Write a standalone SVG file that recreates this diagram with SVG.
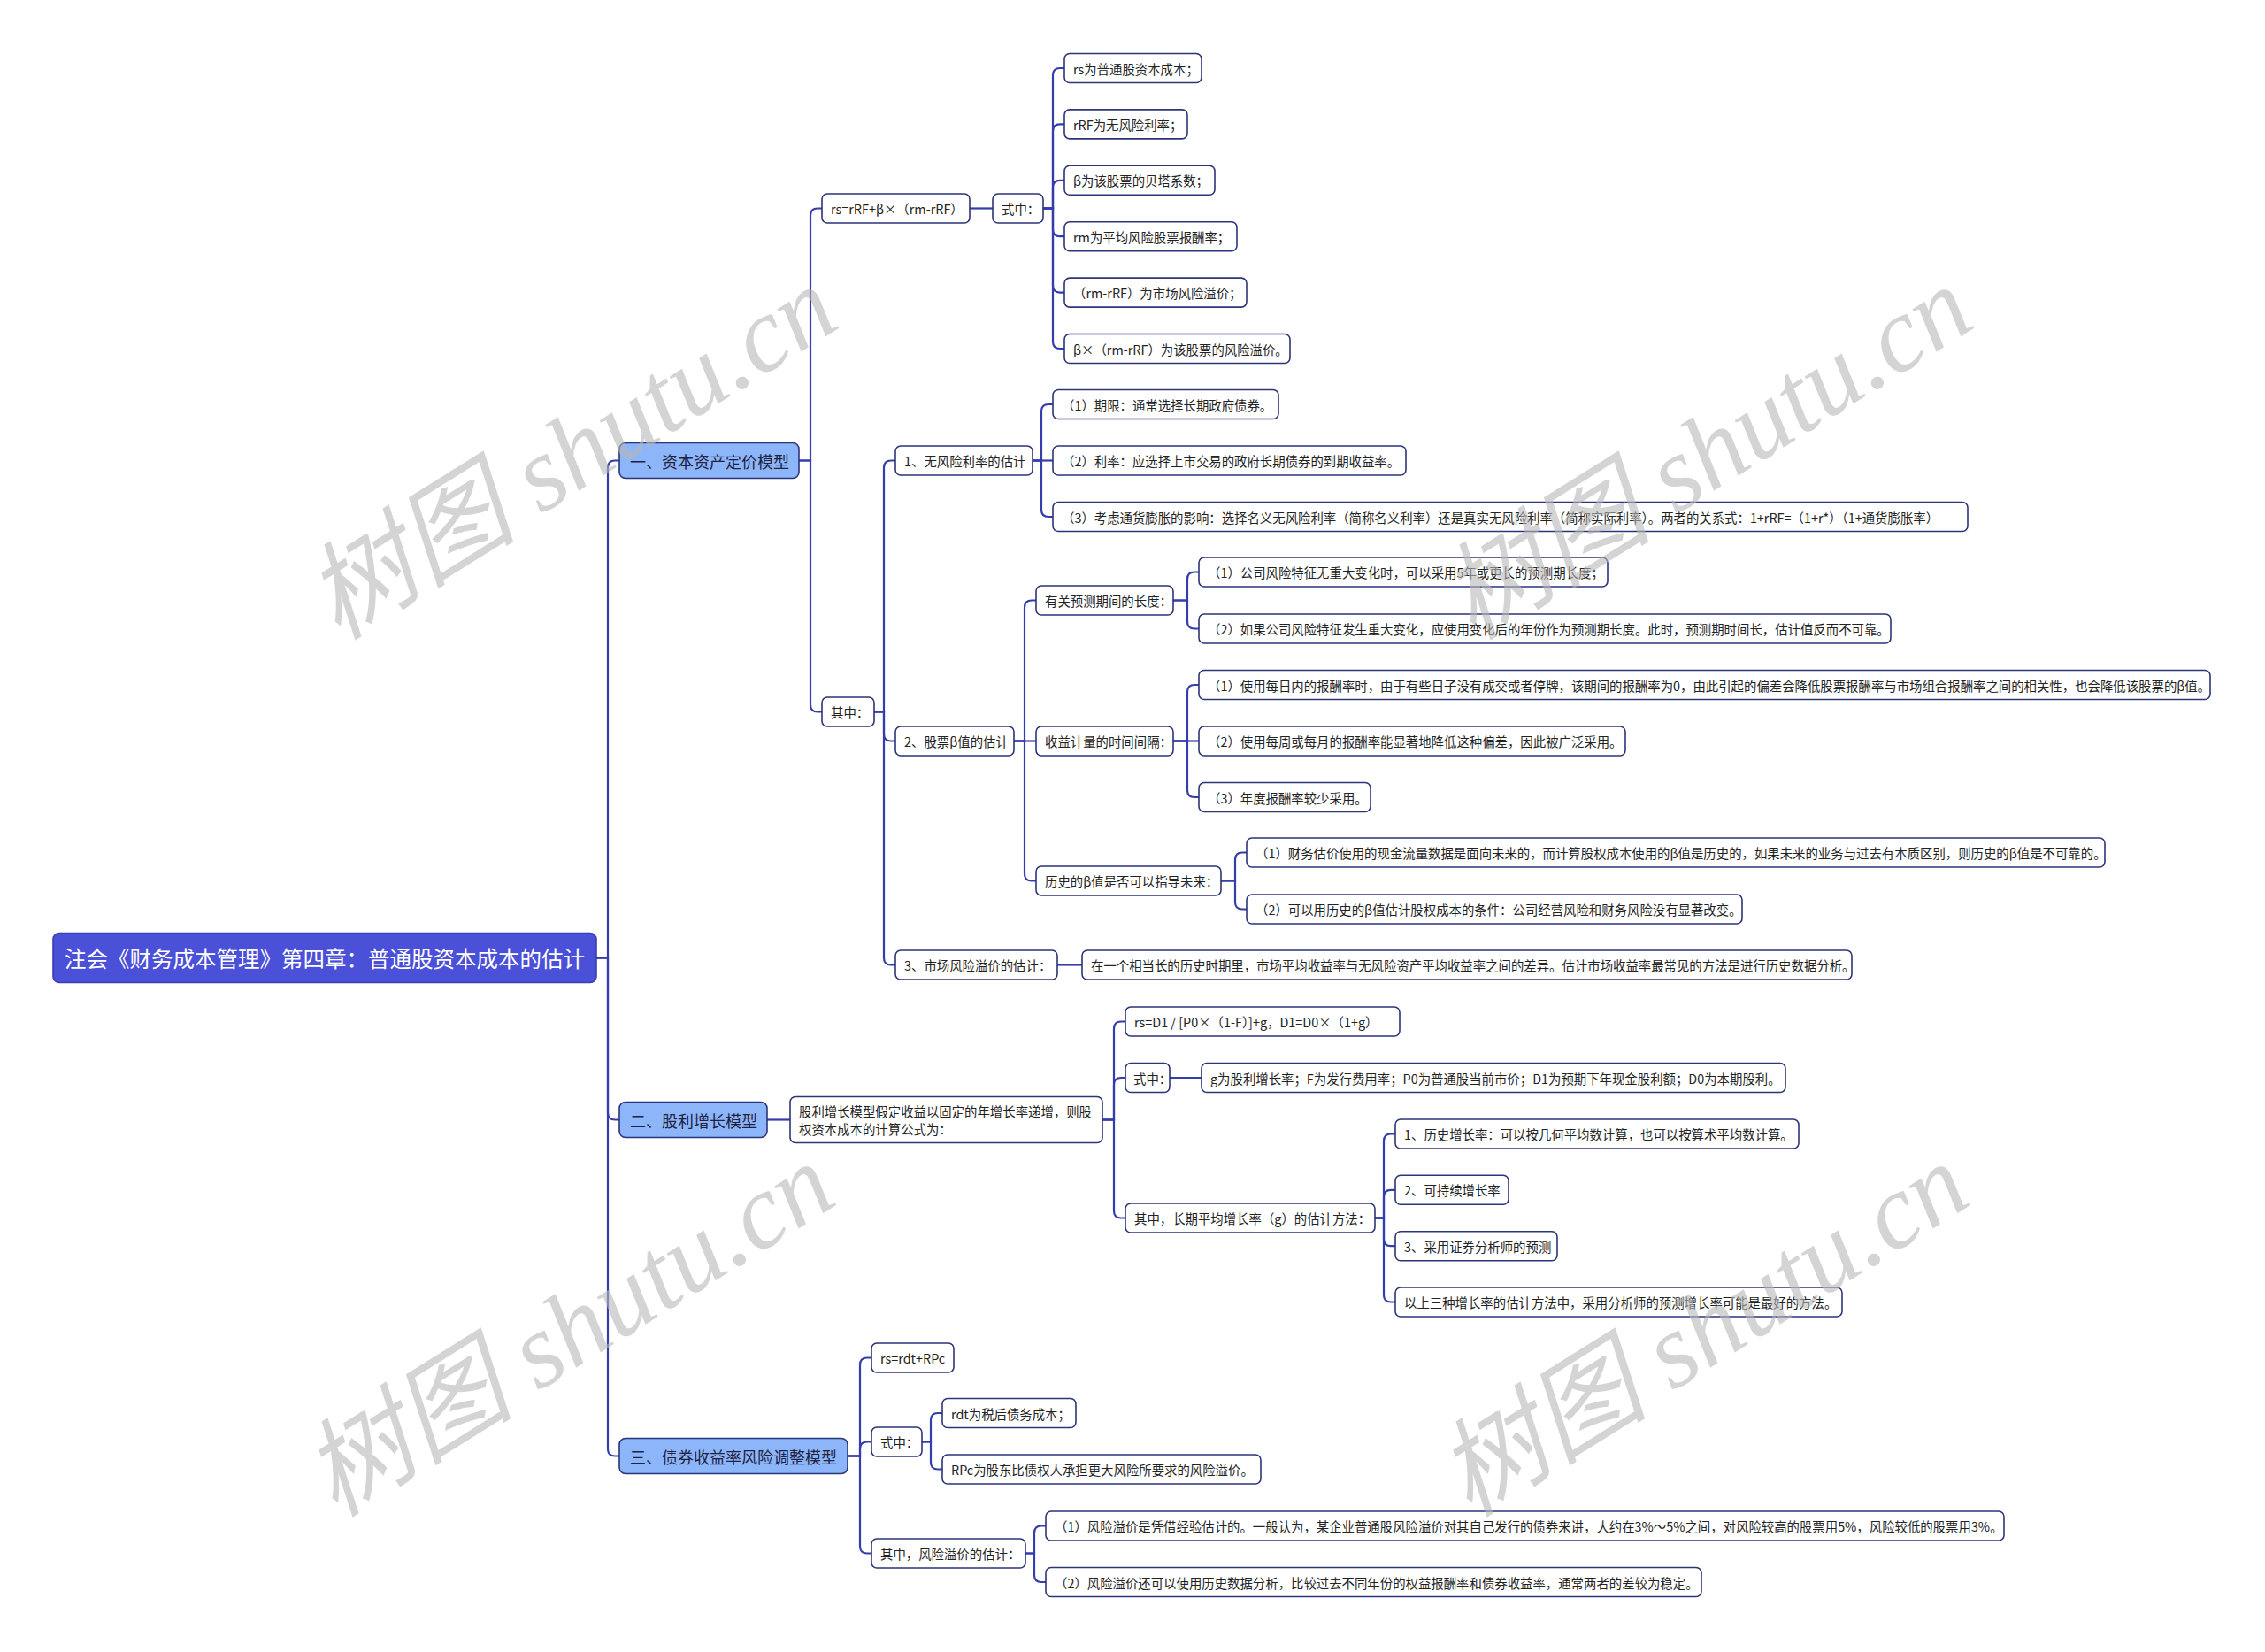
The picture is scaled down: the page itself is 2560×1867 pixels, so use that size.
<svg xmlns="http://www.w3.org/2000/svg" width="2560" height="1867" viewBox="0 0 2560 1867">
<style>
text{font-family:"Noto Sans CJK SC","Microsoft YaHei","Noto Sans",sans-serif;dominant-baseline:central}
.n rect{fill:#ffffff;stroke:#2c3578;stroke-width:1.6}
.n text{font-size:14.4px;fill:#222222}
.l1 rect{fill:#8db5fa;stroke:#2c3578;stroke-width:1.6}
.l1 text{font-size:18px;fill:#1e2240}
.root rect{fill:#4a50d8;stroke:#3a3fb5;stroke-width:1.6}
.root text{font-size:24.5px;fill:#ffffff}
#connectors path{fill:none;stroke:#353cab;stroke-width:2.2}
.wm{font-family:"Liberation Serif","Noto Sans CJK SC",serif;font-style:italic;font-size:120px;fill:#b8b8b8;opacity:0.6;dominant-baseline:central}
</style>
<rect width="2560" height="1867" fill="#ffffff"/>
<g transform="translate(0,-1.5)">
<g id="connectors">
<path d="M674 1084 H687 V530 Q687 522 695 522 H700"/>
<path d="M674 1084 H687 V1259 Q687 1267 695 1267 H700"/>
<path d="M674 1084 H687 V1639 Q687 1647 695 1647 H700"/>
<path d="M903 522 H916 V245 Q916 237 924 237 H929"/>
<path d="M903 522 H916 V798 Q916 806 924 806 H929"/>
<path d="M1096 237 H1122"/>
<path d="M1179 237 H1190 V86.5 Q1190 78.5 1198 78.5 H1203"/>
<path d="M1179 237 H1190 V149.9 Q1190 141.9 1198 141.9 H1203"/>
<path d="M1179 237 H1190 V213.3 Q1190 205.3 1198 205.3 H1203"/>
<path d="M1179 237 H1190 V260.7 Q1190 268.7 1198 268.7 H1203"/>
<path d="M1179 237 H1190 V324.1 Q1190 332.1 1198 332.1 H1203"/>
<path d="M1179 237 H1190 V387.5 Q1190 395.5 1198 395.5 H1203"/>
<path d="M988 806 H999 V530 Q999 522 1007 522 H1012"/>
<path d="M988 806 H999 V831 Q999 839 1007 839 H1012"/>
<path d="M988 806 H999 V1084 Q999 1092 1007 1092 H1012"/>
<path d="M1167 522 H1177 V466.5 Q1177 458.5 1185 458.5 H1190"/>
<path d="M1167 522 H1190"/>
<path d="M1167 522 H1177 V577.5 Q1177 585.5 1185 585.5 H1190"/>
<path d="M1146 839 H1158 V688 Q1158 680 1166 680 H1171"/>
<path d="M1146 839 H1171"/>
<path d="M1146 839 H1158 V989 Q1158 997 1166 997 H1171"/>
<path d="M1326 680 H1342 V656 Q1342 648 1350 648 H1355"/>
<path d="M1326 680 H1342 V704 Q1342 712 1350 712 H1355"/>
<path d="M1326 839 H1342 V783.5 Q1342 775.5 1350 775.5 H1355"/>
<path d="M1326 839 H1355"/>
<path d="M1326 839 H1342 V894.5 Q1342 902.5 1350 902.5 H1355"/>
<path d="M1380 997 H1396 V973 Q1396 965 1404 965 H1409"/>
<path d="M1380 997 H1396 V1021 Q1396 1029 1404 1029 H1409"/>
<path d="M1195 1092 H1223"/>
<path d="M867 1267 H893"/>
<path d="M1246 1267 H1259 V1164 Q1259 1156 1267 1156 H1272"/>
<path d="M1246 1267 H1259 V1227.5 Q1259 1219.5 1267 1219.5 H1272"/>
<path d="M1246 1267 H1259 V1370 Q1259 1378 1267 1378 H1272"/>
<path d="M1322 1219.5 H1358"/>
<path d="M1554 1378 H1564 V1291 Q1564 1283 1572 1283 H1577"/>
<path d="M1554 1378 H1564 V1354.3 Q1564 1346.3 1572 1346.3 H1577"/>
<path d="M1554 1378 H1564 V1401.7 Q1564 1409.7 1572 1409.7 H1577"/>
<path d="M1554 1378 H1564 V1465 Q1564 1473 1572 1473 H1577"/>
<path d="M958 1647 H972 V1544 Q972 1536 980 1536 H985"/>
<path d="M958 1647 H972 V1639 Q972 1631 980 1631 H985"/>
<path d="M958 1647 H972 V1749 Q972 1757 980 1757 H985"/>
<path d="M1042 1631 H1052 V1606.5 Q1052 1598.5 1060 1598.5 H1065"/>
<path d="M1042 1631 H1052 V1654 Q1052 1662 1060 1662 H1065"/>
<path d="M1159 1757 H1169 V1734 Q1169 1726 1177 1726 H1182"/>
<path d="M1159 1757 H1169 V1781.5 Q1169 1789.5 1177 1789.5 H1182"/>
</g>

<g id="root" class="root"><rect x="60" y="1056" width="614" height="56" rx="7"/><text x="73" y="1084">注会《财务成本管理》第四章：普通股资本成本的估计</text></g>

<g id="n1" class="l1"><rect x="700" y="502" width="203" height="40" rx="7"/><text x="712" y="522">一、资本资产定价模型</text></g>
<g id="n2" class="l1"><rect x="700" y="1247" width="167" height="40" rx="7"/><text x="712" y="1267">二、股利增长模型</text></g>
<g id="n3" class="l1"><rect x="700" y="1627" width="258" height="40" rx="7"/><text x="712" y="1647">三、债券收益率风险调整模型</text></g>

<g id="n1-1" class="n"><rect x="929" y="220.5" width="167" height="33" rx="6"/><text x="939" y="237">rs=rRF+β×（rm-rRF）</text></g>
<g id="n1-1-1" class="n"><rect x="1122" y="220.5" width="57" height="33" rx="6"/><text x="1132" y="237">式中：</text></g>
<g id="n1-1-1-1" class="n"><rect x="1203" y="62" width="155" height="33" rx="6"/><text x="1213" y="78.5">rs为普通股资本成本；</text></g>
<g id="n1-1-1-2" class="n"><rect x="1203" y="125.4" width="139" height="33" rx="6"/><text x="1213" y="141.9">rRF为无风险利率；</text></g>
<g id="n1-1-1-3" class="n"><rect x="1203" y="188.8" width="170" height="33" rx="6"/><text x="1213" y="205.3">β为该股票的贝塔系数；</text></g>
<g id="n1-1-1-4" class="n"><rect x="1203" y="252.2" width="195" height="33" rx="6"/><text x="1213" y="268.7">rm为平均风险股票报酬率；</text></g>
<g id="n1-1-1-5" class="n"><rect x="1203" y="315.6" width="206" height="33" rx="6"/><text x="1213" y="332.1">（rm-rRF）为市场风险溢价；</text></g>
<g id="n1-1-1-6" class="n"><rect x="1203" y="379" width="255" height="33" rx="6"/><text x="1213" y="395.5">β×（rm-rRF）为该股票的风险溢价。</text></g>

<g id="n1-2" class="n"><rect x="929" y="789.5" width="59" height="33" rx="6"/><text x="939" y="806">其中：</text></g>
<g id="n1-2-1" class="n"><rect x="1012" y="505.5" width="155" height="33" rx="6"/><text x="1022" y="522">1、无风险利率的估计</text></g>
<g id="n1-2-1-1" class="n"><rect x="1190" y="442" width="255" height="33" rx="6"/><text x="1200" y="458.5">（1）期限：通常选择长期政府债券。</text></g>
<g id="n1-2-1-2" class="n"><rect x="1190" y="505.5" width="399" height="33" rx="6"/><text x="1200" y="522">（2）利率：应选择上市交易的政府长期债券的到期收益率。</text></g>
<g id="n1-2-1-3" class="n"><rect x="1190" y="569" width="1034" height="33" rx="6"/><text x="1200" y="585.5">（3）考虑通货膨胀的影响：选择名义无风险利率（简称名义利率）还是真实无风险利率（简称实际利率）。两者的关系式：1+rRF=（1+r*）（1+通货膨胀率）</text></g>

<g id="n1-2-2" class="n"><rect x="1012" y="822.5" width="134" height="33" rx="6"/><text x="1022" y="839">2、股票β值的估计</text></g>
<g id="n1-2-2-1" class="n"><rect x="1171" y="663.5" width="155" height="33" rx="6"/><text x="1181" y="680">有关预测期间的长度：</text></g>
<g id="n1-2-2-1-1" class="n"><rect x="1355" y="631.5" width="462" height="33" rx="6"/><text x="1365" y="648">（1）公司风险特征无重大变化时，可以采用5年或更长的预测期长度；</text></g>
<g id="n1-2-2-1-2" class="n"><rect x="1355" y="695.5" width="782" height="33" rx="6"/><text x="1365" y="712">（2）如果公司风险特征发生重大变化，应使用变化后的年份作为预测期长度。此时，预测期时间长，估计值反而不可靠。</text></g>
<g id="n1-2-2-2" class="n"><rect x="1171" y="822.5" width="155" height="33" rx="6"/><text x="1181" y="839">收益计量的时间间隔：</text></g>
<g id="n1-2-2-2-1" class="n"><rect x="1355" y="759" width="1143" height="33" rx="6"/><text x="1365" y="775.5">（1）使用每日内的报酬率时，由于有些日子没有成交或者停牌，该期间的报酬率为0，由此引起的偏差会降低股票报酬率与市场组合报酬率之间的相关性，也会降低该股票的β值。</text></g>
<g id="n1-2-2-2-2" class="n"><rect x="1355" y="822.5" width="482" height="33" rx="6"/><text x="1365" y="839">（2）使用每周或每月的报酬率能显著地降低这种偏差，因此被广泛采用。</text></g>
<g id="n1-2-2-2-3" class="n"><rect x="1355" y="886" width="194" height="33" rx="6"/><text x="1365" y="902.5">（3）年度报酬率较少采用。</text></g>
<g id="n1-2-2-3" class="n"><rect x="1171" y="980.5" width="209" height="33" rx="6"/><text x="1181" y="997">历史的β值是否可以指导未来：</text></g>
<g id="n1-2-2-3-1" class="n"><rect x="1409" y="948.5" width="970" height="33" rx="6"/><text x="1419" y="965">（1）财务估价使用的现金流量数据是面向未来的，而计算股权成本使用的β值是历史的，如果未来的业务与过去有本质区别，则历史的β值是不可靠的。</text></g>
<g id="n1-2-2-3-2" class="n"><rect x="1409" y="1012.5" width="560" height="33" rx="6"/><text x="1419" y="1029">（2）可以用历史的β值估计股权成本的条件：公司经营风险和财务风险没有显著改变。</text></g>

<g id="n1-2-3" class="n"><rect x="1012" y="1075.5" width="183" height="33" rx="6"/><text x="1022" y="1092">3、市场风险溢价的估计：</text></g>
<g id="n1-2-3-1" class="n"><rect x="1223" y="1075.5" width="870" height="33" rx="6"/><text x="1233" y="1092">在一个相当长的历史时期里，市场平均收益率与无风险资产平均收益率之间的差异。估计市场收益率最常见的方法是进行历史数据分析。</text></g>

<g id="n2-1" class="n"><rect x="893" y="1241" width="353" height="52" rx="6"/><text x="903" y="1257">股利增长模型假定收益以固定的年增长率递增，则股</text><text x="903" y="1277">权资本成本的计算公式为：</text></g>
<g id="n2-1-1" class="n"><rect x="1272" y="1139.5" width="310" height="33" rx="6"/><text x="1282" y="1156">rs=D1 / [P0×（1-F）]+g，D1=D0×（1+g）</text></g>
<g id="n2-1-2" class="n"><rect x="1272" y="1203" width="50" height="33" rx="6"/><text x="1281" y="1219.5">式中：</text></g>
<g id="n2-1-2-1" class="n"><rect x="1358" y="1203" width="660" height="33" rx="6"/><text x="1368" y="1219.5">g为股利增长率；F为发行费用率；P0为普通股当前市价；D1为预期下年现金股利额；D0为本期股利。</text></g>
<g id="n2-1-3" class="n"><rect x="1272" y="1361.5" width="282" height="33" rx="6"/><text x="1282" y="1378">其中，长期平均增长率（g）的估计方法：</text></g>
<g id="n2-1-3-1" class="n"><rect x="1577" y="1266.5" width="456" height="33" rx="6"/><text x="1587" y="1283">1、历史增长率：可以按几何平均数计算，也可以按算术平均数计算。</text></g>
<g id="n2-1-3-2" class="n"><rect x="1577" y="1329.8" width="128" height="33" rx="6"/><text x="1587" y="1346.3">2、可持续增长率</text></g>
<g id="n2-1-3-3" class="n"><rect x="1577" y="1393.2" width="183" height="33" rx="6"/><text x="1587" y="1409.7">3、采用证券分析师的预测</text></g>
<g id="n2-1-3-4" class="n"><rect x="1577" y="1456.5" width="505" height="33" rx="6"/><text x="1587" y="1473">以上三种增长率的估计方法中，采用分析师的预测增长率可能是最好的方法。</text></g>

<g id="n3-1" class="n"><rect x="985" y="1519.5" width="93" height="33" rx="6"/><text x="995" y="1536">rs=rdt+RPc</text></g>
<g id="n3-2" class="n"><rect x="985" y="1614.5" width="57" height="33" rx="6"/><text x="995" y="1631">式中：</text></g>
<g id="n3-2-1" class="n"><rect x="1065" y="1582" width="151" height="33" rx="6"/><text x="1075" y="1598.5">rdt为税后债务成本；</text></g>
<g id="n3-2-2" class="n"><rect x="1065" y="1645.5" width="360" height="33" rx="6"/><text x="1075" y="1662">RPc为股东比债权人承担更大风险所要求的风险溢价。</text></g>
<g id="n3-3" class="n"><rect x="985" y="1740.5" width="174" height="33" rx="6"/><text x="995" y="1757">其中，风险溢价的估计：</text></g>
<g id="n3-3-1" class="n"><rect x="1182" y="1709.5" width="1083" height="33" rx="6"/><text x="1192" y="1726">（1）风险溢价是凭借经验估计的。一般认为，某企业普通股风险溢价对其自己发行的债券来讲，大约在3%～5%之间，对风险较高的股票用5%，风险较低的股票用3%。</text></g>
<g id="n3-3-2" class="n"><rect x="1182" y="1773" width="741" height="33" rx="6"/><text x="1192" y="1789.5">（2）风险溢价还可以使用历史数据分析，比较过去不同年份的权益报酬率和债券收益率，通常两者的差较为稳定。</text></g>
</g>

<g id="watermarks">
<text class="wm" x="646" y="512" text-anchor="middle" transform="rotate(-32 646 512)">树图 shutu.cn</text>
<text class="wm" x="1929" y="512" text-anchor="middle" transform="rotate(-32 1929 512)">树图 shutu.cn</text>
<text class="wm" x="643" y="1503" text-anchor="middle" transform="rotate(-32 643 1503)">树图 shutu.cn</text>
<text class="wm" x="1925" y="1503" text-anchor="middle" transform="rotate(-32 1925 1503)">树图 shutu.cn</text>
</g>
</svg>
